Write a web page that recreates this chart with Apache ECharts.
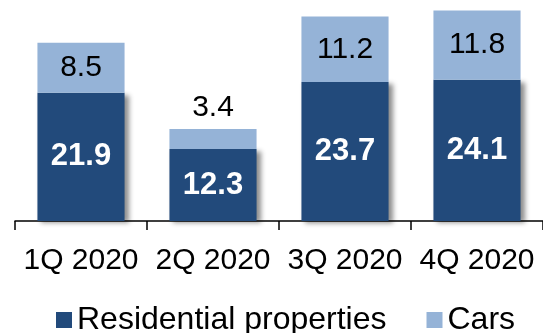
<!DOCTYPE html>
<html>
<head>
<meta charset="utf-8">
<script src="https://cdn.jsdelivr.net/npm/echarts@6/dist/echarts.min.js"></script>
<style>
  html, body { margin: 0; padding: 0; background: #ffffff; }
  #chart { width: 543px; height: 333px; }
</style>
</head>
<body>
<div id="chart"></div>
<script>
// Quarterly figures, stacked: residential properties at the base, cars on top
const quarters = ['1Q 2020', '2Q 2020', '3Q 2020', '4Q 2020'];
const residential = [21.9, 12.3, 23.7, 24.1];
const cars = [8.5, 3.4, 11.2, 11.8];
const seriesNames = ['Residential properties', 'Cars'];

const FONT = '"Liberation Sans", Arial, sans-serif';
const DARK = '#224A7B';
const LIGHT = '#95B3D7';

// Cars values sit inside their segment unless the segment is too short
const carsData = cars.map(v => ({
  value: v,
  label: { position: v < 5 ? 'top' : 'inside', distance: 6 }
}));

const chart = echarts.init(document.getElementById('chart'), null, { renderer: 'canvas' });
chart.setOption({
  animation: false,
  backgroundColor: '#ffffff',
  grid: { left: 15, right: -4, top: 10, bottom: 112 },
  xAxis: {
    type: 'category',
    data: quarters,
    boundaryGap: true,
    axisLine: { lineStyle: { color: '#000000', width: 1.5 } },
    axisTick: { show: true, length: 9, alignWithLabel: false, lineStyle: { color: '#000000', width: 1.5 } },
    axisLabel: { color: '#000000', fontSize: 30, fontFamily: FONT, margin: 25, interval: 0 }
  },
  yAxis: {
    type: 'value',
    min: 0,
    max: 36,
    show: false
  },
  legend: {
    data: seriesNames,
    left: 56,
    top: 304,
    padding: 0,
    itemWidth: 16,
    itemHeight: 16,
    itemGap: 40,
    icon: 'rect',
    textStyle: { color: '#000000', fontSize: 32, fontFamily: FONT, padding: [0, 0, 18, 0] }
  },
  series: [
    {
      name: seriesNames[0],
      type: 'bar',
      stack: 'total',
      barWidth: '66%',
      data: residential,
      itemStyle: {
        color: DARK,
        shadowColor: 'rgba(0,0,0,0.45)',
        shadowBlur: 5,
        shadowOffsetX: 4,
        shadowOffsetY: 2
      },
      label: {
        show: true,
        position: 'inside',
        color: '#ffffff',
        fontWeight: 'bold',
        fontSize: 31,
        fontFamily: FONT
      }
    },
    {
      name: seriesNames[1],
      type: 'bar',
      stack: 'total',
      barWidth: '66%',
      data: carsData,
      itemStyle: { color: LIGHT },
      label: {
        show: true,
        color: '#000000',
        fontSize: 30,
        fontFamily: FONT
      }
    }
  ]
});
</script>
</body>
</html>
